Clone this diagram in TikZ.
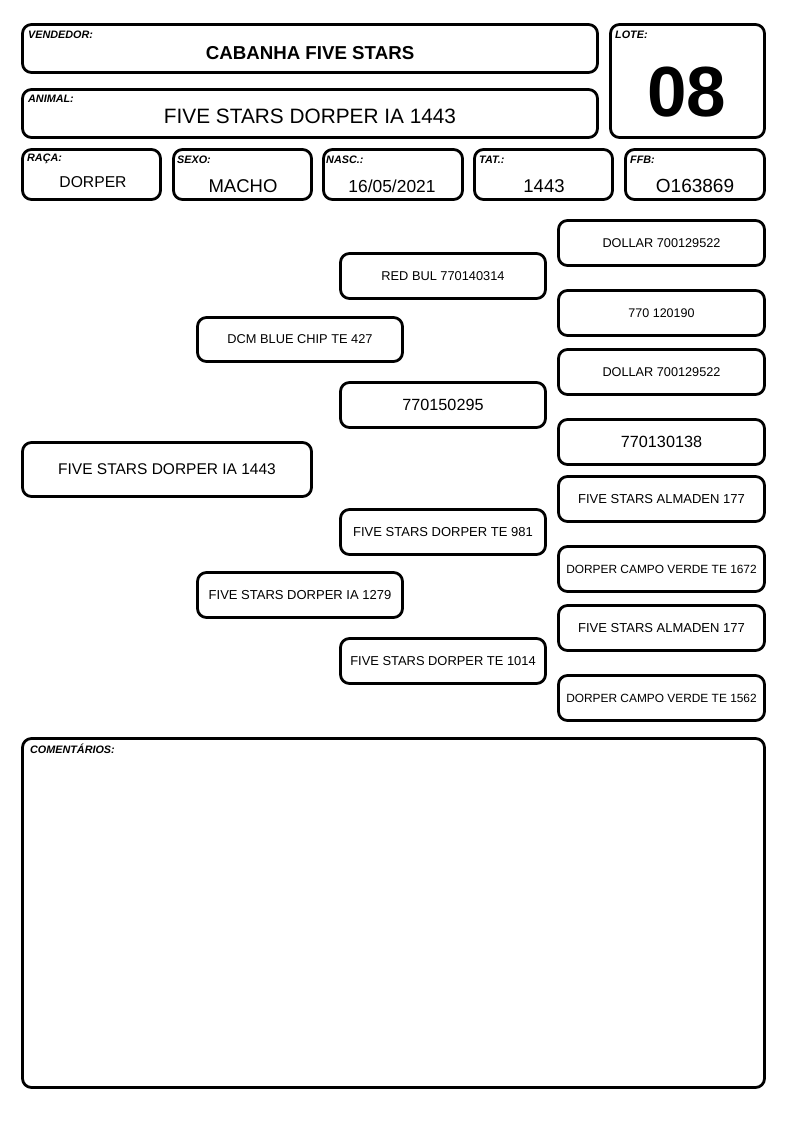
\documentclass[tikz,border=0pt]{standalone}
\usepackage{fontspec}
\setmainfont{Liberation Sans}
\newcommand\fsz[1]{\fontsize{#1}{#1}\selectfont}
\begin{document}
\begin{tikzpicture}[x=1pt,y=-1pt,
  box/.style={draw, line width=2.8pt, rounded corners=9pt, inner sep=0pt, align=center, minimum width=#1},
  lbl/.style={anchor=west, inner sep=0pt, font=\fsz{10.8}\bfseries\itshape},
  val/.style={inner sep=0pt}]
\useasboundingbox[fill=white] (0,0) rectangle (794,1123);
% header
\node[box=575pt, minimum height=48pt] (vend) at (310,48.5) {};
\node[lbl] (vendl) at (28,35) {VENDEDOR:};
\node[val, font=\fsz{18.7}\bfseries] (vendv) at (310,53) {CABANHA FIVE STARS};
\node[box=575pt, minimum height=48pt] (anim) at (310,113.5) {};
\node[lbl] (animl) at (28,99) {ANIMAL:};
\node[val, font=\fsz{20.8}] (animv) at (310,116) {FIVE STARS DORPER IA 1443};
\node[box=154pt, minimum height=113pt] (lote) at (687.5,81) {};
\node[lbl] (lotel) at (615,35) {LOTE:};
\node[val, font=\fsz{71}\bfseries] (lotev) at (687,92) {08};
% row
\node[box=138pt, minimum height=50pt] (raca) at (91.5,174.5) {};
\node[lbl] (racal) at (27,159) {RAÇA:};
\node[val, font=\fsz{15.7}] (racav) at (93,182) {DORPER};
\node[box=138pt, minimum height=50pt] (sexo) at (242.5,174.5) {};
\node[lbl] (sexol) at (177,160) {SEXO:};
\node[val, font=\fsz{18.5}] (sexov) at (243,186) {MACHO};
\node[box=139pt, minimum height=50pt] (nasc) at (393,174.5) {};
\node[lbl] (nascl) at (326,160) {NASC.:};
\node[val, font=\fsz{17.4}] (nascv) at (392,186) {16/05/2021};
\node[box=138pt, minimum height=50pt] (tat) at (543.5,174.5) {};
\node[lbl] (tatl) at (479,160) {TAT.:};
\node[val, font=\fsz{18.5}] (tatv) at (544,186) {1443};
\node[box=139pt, minimum height=50pt] (ffb) at (695,174.5) {};
\node[lbl] (ffbl) at (630,160) {FFB:};
\node[val, font=\fsz{19}] (ffbv) at (695,186) {O163869};
% pedigree
\node[box=289pt, minimum height=54pt, font=\fsz{15.5}] (g1) at (167,469.5) {FIVE STARS DORPER IA 1443};
\node[box=205pt, minimum height=44pt, font=\fsz{12.8}] (g2a) at (300,339.5) {DCM BLUE CHIP TE 427};
\node[box=205pt, minimum height=45pt, font=\fsz{13}] (g2b) at (300,595) {FIVE STARS DORPER IA 1279};
\node[box=205pt, minimum height=45pt, font=\fsz{12.8}] (g3a) at (443,276) {RED BUL 770140314};
\node[box=205pt, minimum height=45pt, font=\fsz{16.2}] (g3b) at (443,405) {770150295};
\node[box=205pt, minimum height=45pt, font=\fsz{13}] (g3c) at (443,532) {FIVE STARS DORPER TE 981};
\node[box=205pt, minimum height=45pt, font=\fsz{12.9}] (g3d) at (443,661) {FIVE STARS DORPER TE 1014};
\node[box=206pt, minimum height=45pt, font=\fsz{12.7}] (g4a) at (661.5,243) {DOLLAR 700129522};
\node[box=206pt, minimum height=45pt, font=\fsz{12.5}] (g4b) at (661.5,313) {770 120190};
\node[box=206pt, minimum height=45pt, font=\fsz{12.7}] (g4c) at (661.5,372) {DOLLAR 700129522};
\node[box=206pt, minimum height=45pt, font=\fsz{16.2}] (g4d) at (661.5,442) {770130138};
\node[box=206pt, minimum height=45pt, font=\fsz{13}] (g4e) at (661.5,499) {FIVE STARS ALMADEN 177};
\node[box=206pt, minimum height=45pt, font=\fsz{11.9}] (g4f) at (661.5,569) {DORPER CAMPO VERDE TE 1672};
\node[box=206pt, minimum height=45pt, font=\fsz{13}] (g4g) at (661.5,628) {FIVE STARS ALMADEN 177};
\node[box=206pt, minimum height=45pt, font=\fsz{11.9}] (g4h) at (661.5,698) {DORPER CAMPO VERDE TE 1562};
% comments
\node[box=742pt, minimum height=349pt] (com) at (393.5,913) {};
\node[lbl] (coml) at (30,749) {COMENTÁRIOS:};
\end{tikzpicture}
\end{document}
